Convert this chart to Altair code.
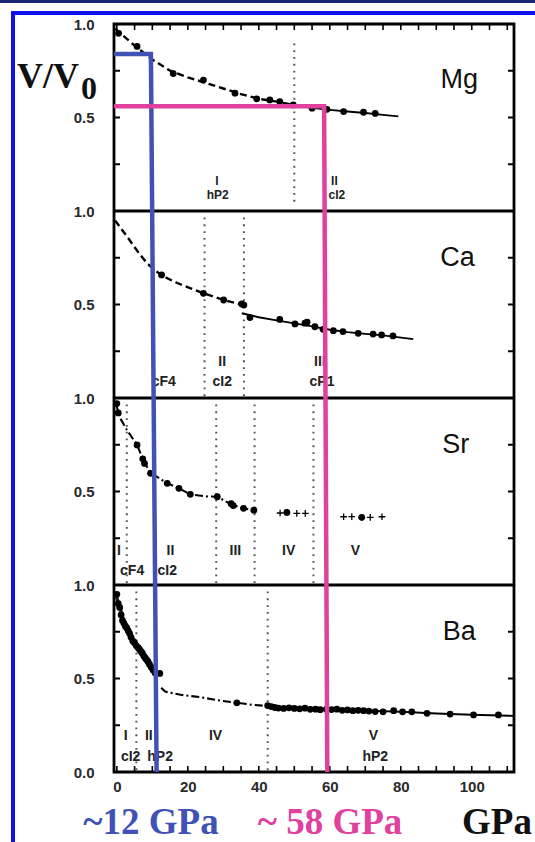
import altair as alt
import pandas as pd

# ---------------- data ----------------
X_DOMAIN = [-0.8, 111.9]
Y_DOMAIN = [0, 4]            # four stacked panels, each 0..1
X_TICK_LABELS = [0, 20, 40, 60, 80, 100]
X_MINOR = [0, 5, 10, 15, 20, 25, 30, 35, 40, 45, 50, 55, 60, 65, 70, 75, 80, 85, 90, 95, 100, 105, 110]
Y_LABEL_VALUES = [0, 0.5, 1, 1.5, 2, 2.5, 3, 3.5, 4]
Y_MINOR = [0.25, 0.5, 0.75, 1.25, 1.5, 1.75, 2.25, 2.5, 2.75, 3.25, 3.5, 3.75]
PANEL_BOUNDS = [1, 2, 3]
OFFSET = {"Mg": 3, "Ca": 2, "Sr": 1, "Ba": 0}

ELEMENTS = ["Mg", "Ca", "Sr", "Ba"]
ELEMENT_X = [96.5, 96.0, 95.5, 96.5]
ELEMENT_Y = [0.70, 0.75, 0.75, 0.75]

# Mg
MG_DOT_X = [0.5, 5.7, 15.9, 24.4, 33.3, 39.4, 43.1, 45.9, 49.7, 55.0, 59.2, 63.9, 69.5, 72.8]
MG_DOT_Y = [0.95, 0.88, 0.735, 0.70, 0.63, 0.60, 0.594, 0.585, 0.567, 0.55, 0.544, 0.532, 0.528, 0.522]
MG_DASH_X = [-0.5, 5, 10, 15, 20, 25, 30, 35, 40, 45, 50]
MG_DASH_Y = [0.975, 0.885, 0.81, 0.75, 0.715, 0.685, 0.655, 0.625, 0.60, 0.585, 0.567]
MG_SOLID_X = [50, 55, 60, 65, 70, 75, 79.3]
MG_SOLID_Y = [0.567, 0.552, 0.541, 0.532, 0.524, 0.514, 0.506]
MG_VLINES = [50.0]

# Ca
CA_DOT_X = [12.6, 24.4, 30.1, 35.2, 35.8, 37.5, 45.9, 50.2, 53.0, 53.6, 55.8, 58.1, 61.0, 63.7, 68.0, 72.2, 74.6, 77.8]
CA_DOT_Y = [0.658, 0.56, 0.524, 0.503, 0.497, 0.43, 0.42, 0.396, 0.40, 0.405, 0.381, 0.367, 0.36, 0.355, 0.346, 0.342, 0.337, 0.332]
CA_DASH_X = [-0.5, 3, 6, 8.5, 12.6, 17, 21, 24.4, 30.1, 35.2]
CA_DASH_Y = [0.95, 0.86, 0.78, 0.72, 0.655, 0.615, 0.585, 0.56, 0.524, 0.50]
CA_SOLID_X = [35.2, 40, 45, 50, 55, 60, 65, 70, 75, 83.5]
CA_SOLID_Y = [0.453, 0.432, 0.415, 0.399, 0.383, 0.365, 0.352, 0.343, 0.335, 0.315]
CA_VLINES = [24.7, 35.8]

# Sr
SR_DOT_X = [0.0, 0.4, 5.7, 7.3, 7.8, 9.5, 14.2, 17.5, 20.7, 28.3, 32.2, 32.8, 35.7, 38.6, 47.9, 69.0]
SR_DOT_Y = [0.97, 0.92, 0.749, 0.675, 0.65, 0.597, 0.544, 0.517, 0.485, 0.472, 0.435, 0.425, 0.41, 0.40, 0.388, 0.362]
SR_LINE_X = [-0.3, 1, 2.8, 5.7, 7.6, 9.5, 14.2, 17.5, 20.7, 25, 28.3, 32.5, 35.7, 38.6]
SR_LINE_Y = [0.97, 0.89, 0.83, 0.749, 0.66, 0.60, 0.544, 0.517, 0.485, 0.474, 0.472, 0.428, 0.41, 0.40]
SR_CROSS_X = [46.0, 47.9, 50.7, 53.1, 63.9, 66.2, 69.0, 71.4, 74.7]
SR_CROSS_Y = [0.385, 0.388, 0.383, 0.383, 0.365, 0.366, 0.362, 0.362, 0.365]
SR_VLINES = [2.8, 28.0, 38.8, 55.4]

# Ba
BA_DOT_X = [0.0, 0.4, 0.8, 1.2, 1.6, 2.0, 2.4, 2.8, 3.2, 3.6, 4.0, 4.5, 5.0, 5.5, 6.0, 6.4, 6.8, 7.2, 7.6, 8.0,
            8.4, 8.8, 9.2, 9.7, 10.2, 10.8, 12.1,
            33.8, 42.5, 43.5, 44.5, 45.5, 47.0, 48.5, 50.0, 51.5, 53.0, 54.5, 56.0, 57.3, 59.0, 60.5, 62.0,
            63.5, 65.0, 66.5, 68.0, 69.5, 71.0, 72.8, 75.0, 78.0, 80.5, 83.1, 87.4, 93.9, 100.5, 107.5]
BA_DOT_Y = [0.95, 0.90, 0.88, 0.84, 0.81, 0.795, 0.78, 0.77, 0.755, 0.74, 0.72, 0.70, 0.69, 0.675, 0.665, 0.655,
            0.645, 0.635, 0.62, 0.61, 0.60, 0.59, 0.575, 0.56, 0.545, 0.53, 0.527,
            0.37, 0.355, 0.35, 0.345, 0.342, 0.34, 0.343, 0.34, 0.338, 0.341, 0.335, 0.336, 0.333, 0.335, 0.334,
            0.336, 0.33, 0.332, 0.328, 0.33, 0.328, 0.326, 0.323, 0.322, 0.328, 0.322, 0.322, 0.314, 0.31, 0.305, 0.305]
BA_LOW_X = [-0.5, 1, 2, 3.4, 5, 7, 8.6, 10.4]
BA_LOW_Y = [0.96, 0.87, 0.80, 0.75, 0.69, 0.64, 0.60, 0.53]
BA_DASHDOT_X = [12.5, 13.6, 18, 23.5, 28, 33.8, 38, 42.2]
BA_DASHDOT_Y = [0.45, 0.43, 0.413, 0.40, 0.385, 0.37, 0.36, 0.353]
BA_SOLID_X = [42.2, 50, 60, 70, 80, 90, 100, 111.9]
BA_SOLID_Y = [0.35, 0.34, 0.335, 0.328, 0.322, 0.313, 0.306, 0.30]
BA_VLINES = [5.5, 42.5]

# phase labels (Mg labels are set smaller in the reference)
MG_PHASE_TEXT = ["I", "hP2", "II", "cI2"]
MG_PHASE_X = [28.2, 28.4, 61.3, 62.0]
MG_PHASE_Y = [0.158, 0.086, 0.158, 0.086]
PHASE_TEXT = ["cF4", "II", "cI2", "III", "cP1",
              "I", "cF4", "II", "cI2", "III", "IV", "V",
              "I", "II", "cI2", "hP2", "IV", "V", "hP2"]
PHASE_PANEL = ["Ca"] * 5 + ["Sr"] * 7 + ["Ba"] * 7
PHASE_X = [13.2, 29.7, 29.7, 57.2, 57.8,
           0.6, 4.3, 15.1, 14.2, 33.4, 48.4, 67.2,
           2.5, 9.0, 3.9, 12.2, 27.8, 72.3, 72.8]
PHASE_Y = [0.088, 0.195, 0.088, 0.195, 0.088,
           0.182, 0.073, 0.182, 0.073, 0.182, 0.182, 0.182,
           0.19, 0.19, 0.08, 0.08, 0.19, 0.19, 0.08]

# highlighted pressures (blue ~12 GPa, pink ~58 GPa)
BLUE_X = [-0.8, 9.6, 11.2]
BLUE_Y = [3.84, 3.84, 0.0]
PINK_X = [-0.8, 58.4, 59.3]
PINK_Y = [3.56, 3.56, 0.0]

BLUE = "#4052b5"
PINK = "#e0409e"

# ---------------- build tables ----------------
def panel_df(panel, xs, ys, series=None):
    off = OFFSET[panel]
    return pd.DataFrame({"x": xs, "y": [v + off for v in ys], "s": series or panel})

dots = pd.concat([panel_df("Mg", MG_DOT_X, MG_DOT_Y), panel_df("Ca", CA_DOT_X, CA_DOT_Y),
                  panel_df("Sr", SR_DOT_X, SR_DOT_Y), panel_df("Ba", BA_DOT_X, BA_DOT_Y)])
dashed = pd.concat([panel_df("Mg", MG_DASH_X, MG_DASH_Y), panel_df("Ca", CA_DASH_X, CA_DASH_Y)])
dashdot = pd.concat([panel_df("Sr", SR_LINE_X, SR_LINE_Y), panel_df("Ba", BA_DASHDOT_X, BA_DASHDOT_Y)])
solid = pd.concat([panel_df("Mg", MG_SOLID_X, MG_SOLID_Y, "mg"), panel_df("Ca", CA_SOLID_X, CA_SOLID_Y, "ca"),
                   panel_df("Ba", BA_SOLID_X, BA_SOLID_Y, "ba1")])
ba_low = panel_df("Ba", BA_LOW_X, BA_LOW_Y)
crosses = panel_df("Sr", SR_CROSS_X, SR_CROSS_Y)

vl_rows = []
for p, xs in [("Mg", MG_VLINES), ("Ca", CA_VLINES), ("Sr", SR_VLINES), ("Ba", BA_VLINES)]:
    for xv in xs:
        top = 0.9 if p == "Mg" else 0.99
        bot = 0.05 if p == "Mg" else 0.01
        vl_rows.append({"x": xv, "y": OFFSET[p] + bot, "y2": OFFSET[p] + top})
vlines = pd.DataFrame(vl_rows)

elements = pd.DataFrame({"x": ELEMENT_X, "y": [ELEMENT_Y[i] + OFFSET[e] for i, e in enumerate(ELEMENTS)], "t": ELEMENTS})
mg_phases = pd.DataFrame({"x": MG_PHASE_X, "y": [v + OFFSET["Mg"] for v in MG_PHASE_Y], "t": MG_PHASE_TEXT})
phases = pd.DataFrame({"x": PHASE_X, "y": [PHASE_Y[i] + OFFSET[p] for i, p in enumerate(PHASE_PANEL)], "t": PHASE_TEXT})
blue = pd.DataFrame({"x": BLUE_X, "y": BLUE_Y})
pink = pd.DataFrame({"x": PINK_X, "y": PINK_Y})

# ---------------- scales / axes ----------------
W, H = 400, 748
PL, PT = 114, 24
TICK_LEN_Y = 6 / (H / 4)                       # 6 px in y data units
TICK_LEN_X = 6 / (W / (X_DOMAIN[1] - X_DOMAIN[0]))  # 6 px in x data units

XS = alt.Scale(domain=X_DOMAIN, nice=False, zero=False)
YS = alt.Scale(domain=Y_DOMAIN, nice=False, zero=False)
X_AXIS = alt.Axis(values=X_TICK_LABELS, ticks=False, domain=False, grid=False, labelPadding=7,
                  labelFontSize=15, labelFont="Liberation Sans", labelFontWeight="bold",
                  labelColor="#2a2a2a", title=None, labelFlush=False)
Y_AXIS = alt.Axis(values=Y_LABEL_VALUES, ticks=False, domain=False, grid=False, labelPadding=20,
                  labelExpr="datum.value == 0 ? '0.0' : (datum.value % 1 == 0 ? '1.0' : '0.5')",
                  labelFontSize=15, labelFont="Liberation Sans", labelFontWeight="bold",
                  labelColor="#2a2a2a", title=None, labelOverlap=False)


def X(f="x"):
    return alt.X(f + ":Q", scale=XS, axis=X_AXIS)


def Y(f="y"):
    return alt.Y(f + ":Q", scale=YS, axis=Y_AXIS)


# tick tables
top_ticks = pd.DataFrame({"x": X_MINOR, "y": Y_DOMAIN[1], "y2": Y_DOMAIN[1] - TICK_LEN_Y})
bot_ticks = pd.DataFrame({"x": X_MINOR, "y": Y_DOMAIN[0], "y2": Y_DOMAIN[0] + TICK_LEN_Y})
left_ticks = pd.DataFrame({"y": Y_MINOR, "x": X_DOMAIN[0], "x2": X_DOMAIN[0] + TICK_LEN_X})
right_ticks = pd.DataFrame({"y": Y_MINOR, "x": X_DOMAIN[1], "x2": X_DOMAIN[1] - TICK_LEN_X})

layers = []

# panel separators
layers.append(alt.Chart(pd.DataFrame({"y": PANEL_BOUNDS})).mark_rule(color="black", strokeWidth=2.8)
              .encode(y=Y()))
# inward ticks
for tdf in (top_ticks, bot_ticks):
    layers.append(alt.Chart(tdf).mark_rule(color="black", strokeWidth=1.6)
                  .encode(x=X(), y=Y(), y2="y2:Q"))
for tdf in (left_ticks, right_ticks):
    layers.append(alt.Chart(tdf).mark_rule(color="black", strokeWidth=2)
                  .encode(x=X(), x2="x2:Q", y=Y()))
# dotted phase boundaries
layers.append(alt.Chart(vlines).mark_rule(color="#555", strokeWidth=2, strokeDash=[1.8, 5])
              .encode(x=X(), y=Y(), y2="y2:Q"))
# curves
layers.append(alt.Chart(dashed).mark_line(color="black", strokeWidth=2.4, strokeDash=[7, 4])
              .encode(x=X(), y=Y(), detail="s:N"))
layers.append(alt.Chart(dashdot).mark_line(color="black", strokeWidth=2.1, strokeDash=[8, 3, 2, 3])
              .encode(x=X(), y=Y(), detail="s:N"))
layers.append(alt.Chart(solid).mark_line(color="black", strokeWidth=1.9)
              .encode(x=X(), y=Y(), detail="s:N"))
layers.append(alt.Chart(ba_low).mark_line(color="#222", strokeWidth=3.5)
              .encode(x=X(), y=Y()))
# points
layers.append(alt.Chart(dots).mark_circle(color="black", size=46, opacity=1)
              .encode(x=X(), y=Y()))
layers.append(alt.Chart(crosses).mark_point(shape="M-1,0L1,0M0,-1L0,1", filled=False, color="black",
                                            strokeWidth=1.3, size=45, opacity=1)
              .encode(x=X(), y=Y()))
# labels
layers.append(alt.Chart(elements).mark_text(font="Liberation Sans", fontSize=27, color="#111")
              .encode(x=X(), y=Y(), text="t:N"))
layers.append(alt.Chart(mg_phases).mark_text(font="Liberation Sans", fontSize=12, fontWeight="bold", color="#222")
              .encode(x=X(), y=Y(), text="t:N"))
layers.append(alt.Chart(phases).mark_text(font="Liberation Sans", fontSize=14, fontWeight="bold", color="#222")
              .encode(x=X(), y=Y(), text="t:N"))
# highlighted pressures
layers.append(alt.Chart(blue).mark_line(color=BLUE, strokeWidth=4.5, strokeJoin="miter", clip=True)
              .encode(x=X(), y=Y()))
layers.append(alt.Chart(pink).mark_line(color=PINK, strokeWidth=4.5, strokeJoin="miter", clip=True)
              .encode(x=X(), y=Y()))

# ---------------- decorations outside the plot (pixel positions) ----------------
one = pd.DataFrame({"a": [0]})
layers.append(alt.Chart(one).mark_rule(color="#1c2573", strokeWidth=3)
              .encode(x=alt.value(-PL), x2=alt.value(535 - PL), y=alt.value(1.5 - PT)))
layers.append(alt.Chart(one).mark_rule(color="#1010ee", strokeWidth=4)
              .encode(x=alt.value(11 - PL), x2=alt.value(535 - PL), y=alt.value(13 - PT)))
layers.append(alt.Chart(one).mark_rule(color="#1010ee", strokeWidth=4)
              .encode(x=alt.value(13 - PL), y=alt.value(11 - PT), y2=alt.value(842 - PT)))


def ptext(t, x, y, size, color, align="left"):
    return (alt.Chart(pd.DataFrame({"t": [t]}))
            .mark_text(font="Liberation Serif", fontWeight="bold", fontSize=size, color=color,
                       align=align, baseline="alphabetic")
            .encode(text="t:N", x=alt.value(x - PL), y=alt.value(y - PT)))


layers.append(ptext("V/V", 17, 88, 36, "#111"))
layers.append(ptext("0", 81, 99, 32, "#111"))
layers.append(ptext("~12 GPa", 151, 834, 37, BLUE, "center"))
layers.append(ptext("~ 58 GPa", 330, 834, 37, PINK, "center"))
layers.append(ptext("GPa", 462, 834, 37, "#111"))

chart = alt.layer(*layers).properties(
    width=W, height=H,
    autosize=alt.AutoSizeParams(type="none"),
    padding={"left": PL, "top": PT, "right": 535 - PL - W, "bottom": 842 - PT - H},
    background="white",
).configure_view(stroke="black", strokeWidth=2.8)

chart.save("out.html", embed_options={"renderer": "svg", "actions": False})
